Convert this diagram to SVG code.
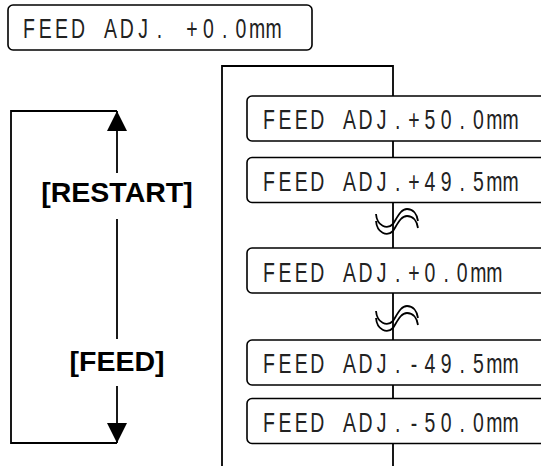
<svg xmlns="http://www.w3.org/2000/svg" width="541" height="466" viewBox="0 0 541 466">
<style>
.box{fill:#fff;stroke:#000;stroke-width:1.6}
.lcd{font-family:"Liberation Sans",Arial,sans-serif;font-size:27px;fill:#222;text-anchor:middle}
.ln{fill:none;stroke:#000;stroke-width:1.8}
.key{font-family:"Liberation Sans",Arial,sans-serif;font-weight:bold;font-size:28.5px;fill:#000;text-anchor:middle}
.wave{fill:none;stroke:#000;stroke-width:1.8}
</style>
<defs>
<marker id="ah" viewBox="0 0 20 20" markerWidth="20" markerHeight="20" refX="20" refY="10" orient="auto" markerUnits="userSpaceOnUse">
<path d="M0,0 L20,10 L0,20 Z" fill="#000"/>
</marker>
<g id="wv">
<path class="wave" d="M376,214 C377,226 387,230 393,224 C398,216 401,209 407,209 C413,209 417,214 418,221"/>
<path class="wave" d="M376,221 C377,233 387,237 393,231 C398,223 401,216 407,216 C413,216 417,221 418,228"/>
</g>
</defs>
<g id="connectors">
<path class="ln" d="M222,466 L222,66 L393,66 L393,466"/>
<path class="ln" d="M117,173 L117,111" marker-end="url(#ah)"/>
<path class="ln" d="M117,111 L11,111 L11,443 L117,443"/>
<path class="ln" d="M117,219 L117,339"/>
<path class="ln" d="M117,386 L117,443" marker-end="url(#ah)"/>
<use href="#wv"/>
<use href="#wv" y="97"/>
</g>
<g id="node-top">
<rect class="box" x="8" y="5" width="304" height="45" rx="5"/>
<text class="lcd" transform="translate(29,38) scale(0.72,1)" x="0 22.64 45.28 67.92 90.56 113.19 135.83 158.47 181.11 203.75 226.39 249.03 271.67 294.31 316.95 339.58" y="0">FEED ADJ. +0.0mm</text>
</g>
<g id="node-restart">
<text class="key" x="117" y="201.5">[RESTART]</text>
</g>
<g id="node-feed">
<text class="key" x="117" y="370.5">[FEED]</text>
</g>
<g id="node-p50">
<rect class="box" x="247" y="96" width="330" height="45" rx="5"/>
<text class="lcd" transform="translate(269,129) scale(0.72,1)" x="0 22.36 44.72 67.08 89.44 111.81 134.17 156.53 178.89 201.25 223.61 245.97 268.33 290.69 313.05 335.42" y="0">FEED ADJ.+50.0mm</text>
</g>
<g id="node-p495">
<rect class="box" x="247" y="157.5" width="330" height="45" rx="5"/>
<text class="lcd" transform="translate(269,190.5) scale(0.72,1)" x="0 22.36 44.72 67.08 89.44 111.81 134.17 156.53 178.89 201.25 223.61 245.97 268.33 290.69 313.05 335.42" y="0">FEED ADJ.+49.5mm</text>
</g>
<g id="node-p0">
<rect class="box" x="247" y="248" width="330" height="45" rx="5"/>
<text class="lcd" transform="translate(269,281.5) scale(0.72,1)" x="0 22.36 44.72 67.08 89.44 111.81 134.17 156.53 178.89 201.25 223.61 245.97 268.33 290.69 313.05" y="0">FEED ADJ.+0.0mm</text>
</g>
<g id="node-m495">
<rect class="box" x="247" y="340" width="330" height="45" rx="5"/>
<text class="lcd" transform="translate(269,373) scale(0.72,1)" x="0 22.36 44.72 67.08 89.44 111.81 134.17 156.53 178.89 201.25 223.61 245.97 268.33 290.69 313.05 335.42" y="0">FEED ADJ.-49.5mm</text>
</g>
<g id="node-m50">
<rect class="box" x="247" y="398.5" width="330" height="45" rx="5"/>
<text class="lcd" transform="translate(269,431.5) scale(0.72,1)" x="0 22.36 44.72 67.08 89.44 111.81 134.17 156.53 178.89 201.25 223.61 245.97 268.33 290.69 313.05 335.42" y="0">FEED ADJ.-50.0mm</text>
</g>
</svg>
